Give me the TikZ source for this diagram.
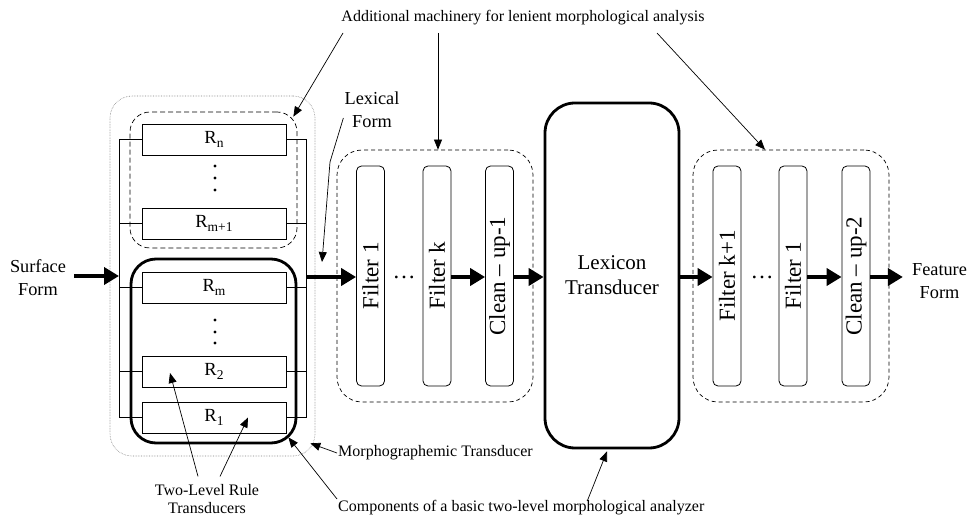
\documentclass[tikz,border=0pt]{standalone}
\usepackage{fontspec}
\usepackage{graphicx}
\setmainfont{Liberation Serif}
\usetikzlibrary{arrows.meta}

\newcommand{\rsub}[1]{R\raisebox{-0.45ex}{\fontsize{13.5}{14}\selectfont #1}}

\begin{document}
\begin{tikzpicture}[x=1pt,y=-1pt,
    rulebox/.style={draw,line width=0.8pt,minimum width=144pt,minimum height=31pt,inner sep=0pt,font=\fontsize{18.5}{22}\selectfont},
    filterbox/.style={draw,line width=0.8pt,rounded corners=5pt,minimum width=28pt,minimum height=220pt,inner sep=0pt,font=\fontsize{23}{27}\selectfont},
    groupbox/.style={draw,dash pattern=on 4pt off 3pt,line width=0.7pt,rounded corners=25pt,minimum width=196pt,minimum height=252pt,inner sep=0pt},
    bigarrow/.style={line width=4pt,-{Triangle[length=15pt,width=17pt]}},
    callout/.style={line width=0.7pt,-{Triangle[length=10pt,width=8pt]}},
    formlabel/.style={font=\fontsize{18.3}{23}\selectfont,align=center,inner sep=1pt},
    notetext/.style={font=\fontsize{16}{17.5}\selectfont,align=center,inner sep=1pt}]
    \useasboundingbox (0,0) rectangle (969,518);

    % morphographemic transducer
    \node[draw=gray,densely dotted,line width=0.6pt,rounded corners=22pt,minimum width=205pt,minimum height=360pt,inner sep=0pt] (mtrans) at (212.5,276) {};
    \node[draw,dash pattern=on 5pt off 3pt,line width=0.7pt,rounded corners=20pt,minimum width=167pt,minimum height=136pt,inner sep=0pt] (upgrp) at (213.5,180) {};
    \node[draw,line width=2.8pt,rounded corners=25pt,minimum width=165pt,minimum height=184pt,inner sep=0pt] (basic) at (213.5,351) {};

    \node[rulebox] (rn) at (214,139.5) {\rsub{n}};
    \node[rulebox] (rm1) at (214,223.5) {\rsub{m+1}};
    \node[rulebox] (rm) at (214,287.5) {\rsub{m}};
    \node[rulebox] (r2) at (214,371.5) {\rsub{2}};
    \node[rulebox] (r1) at (214,417.5) {\rsub{1}};
    \foreach \y in {166,178,190,320,332,343} \fill (215,\y) circle (1.7pt);

    \coordinate (lbus) at (119,0);
    \coordinate (rbus) at (306,0);
    \draw[line width=0.8pt] (rn.west -| lbus) -- (r1.west -| lbus);
    \draw[line width=0.8pt] (rn.east -| rbus) -- (r1.east -| rbus);
    \foreach \r in {rn,rm1,rm,r2,r1}
        \draw[line width=0.8pt] (\r.west) -- (\r.west -| lbus) (\r.east) -- (\r.east -| rbus);

    % filters and lexicon
    \node[groupbox] (grp1) at (435,276) {};
    \node[groupbox] (grp2) at (791,276) {};
    \node[filterbox] (f1) at (370.5,276) {\rotatebox{90}{Filter 1}};
    \node[filterbox] (fk) at (437,276) {\rotatebox{90}{Filter k}};
    \node[filterbox] (c1) at (499.5,276) {\rotatebox{90}{Clean -- up-1}};
    \node[filterbox] (fk1) at (727,276) {\rotatebox{90}{Filter k+1}};
    \node[filterbox] (fl) at (793,276) {\rotatebox{90}{Filter 1}};
    \node[filterbox] (c2) at (856,276) {\rotatebox{90}{Clean -- up-2}};
    \node[font=\fontsize{23}{27}\selectfont,inner sep=0pt] (dk) at (404,277) {\ldots};
    \node[font=\fontsize{23}{27}\selectfont,inner sep=0pt] (dl) at (762,277) {\ldots};
    \node[draw,line width=2.8pt,rounded corners=30pt,minimum width=134pt,minimum height=345pt,inner sep=0pt,align=center,font=\fontsize{21}{25}\selectfont] (lex) at (612,275.5) {Lexicon\\Transducer};

    % labels
    \node[formlabel,inner xsep=8pt] (surf) at (38,278) {Surface\\Form};
    \node[formlabel] (lexf) at (372,110) {Lexical\\Form};
    \node[formlabel,inner xsep=9pt] (feat) at (939.5,281) {Feature\\Form};
    \node[notetext] (addl) at (523,18) {Additional machinery for lenient morphological analysis};
    \node[notetext] (tlr) at (207,499) {Two-Level Rule\\Transducers};
    \node[notetext,anchor=west] (morph) at (337,453) {Morphographemic Transducer};
    \node[notetext,anchor=west] (comp) at (337,508) {Components of a basic two-level morphological analyzer};

    % main flow
    \coordinate (sin) at (119,276);
    \coordinate (sout) at (306,277);
    \draw[bigarrow] (sin -| surf.east) -- (sin);
    \draw[bigarrow] (sout) -- (sout -| f1.west);
    \draw[bigarrow] (sout -| fk.east) -- (sout -| c1.west);
    \draw[bigarrow] (sout -| c1.east) -- (sout -| lex.west);
    \draw[bigarrow] (sout -| lex.east) -- (sout -| fk1.west);
    \draw[bigarrow] (sout -| fl.east) -- (sout -| c2.west);
    \draw[bigarrow] (sout -| c2.east) -- (sout -| feat.west);

    % callouts
    \coordinate (lexin) at (322,262);
    \draw[callout] ([xshift=-180pt,yshift=-15pt]addl.center) -- ([xshift=-4pt,yshift=-5pt]upgrp.north east);
    \draw[callout] ([xshift=-85pt,yshift=-15pt]addl.center) -- ([xshift=3pt]grp1.north);
    \draw[callout] ([xshift=134pt,yshift=-15pt]addl.center) -- ([xshift=-26pt]grp2.north);
    \draw[callout] ([yshift=-8pt]lexf.west) -- (330,162) -- (lexin);
    \draw[callout] ([xshift=-9pt,yshift=7pt]tlr.north) -- ([xshift=-44pt,yshift=-1.5pt]r2.center);
    \draw[callout] ([xshift=13pt,yshift=7pt]tlr.north) -- ([xshift=34pt]r1.center);
    \draw[callout] (morph.west) -- ([xshift=-5pt,yshift=13pt]mtrans.south east);
    \draw[callout] ([yshift=9pt]comp.west) -- ([xshift=-9pt,yshift=7pt]basic.south east);
    \draw[callout] ([xshift=66pt,yshift=7pt]comp.center) -- ([xshift=-5pt,yshift=-2pt]lex.south);
\end{tikzpicture}
\end{document}
